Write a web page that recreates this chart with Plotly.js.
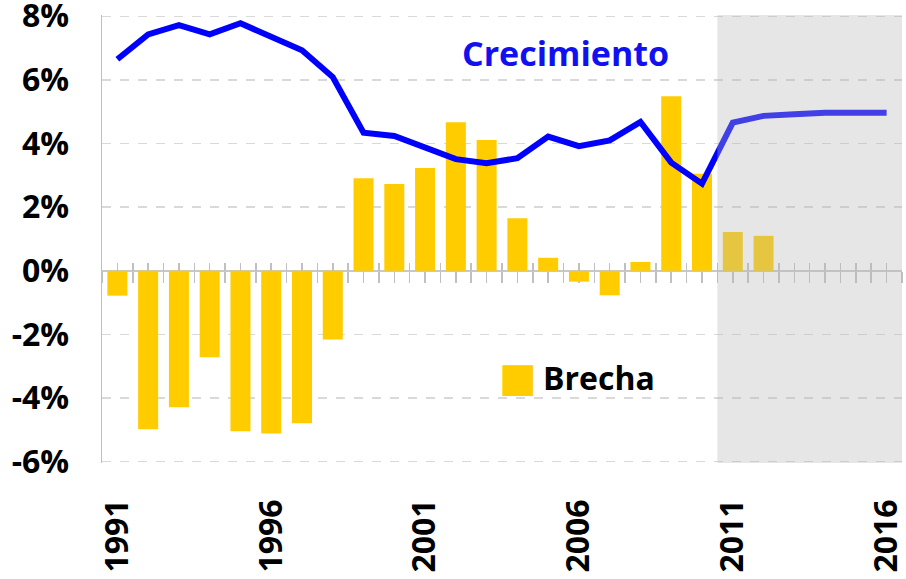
<!DOCTYPE html>
<html>
<head>
<meta charset="utf-8">
<script src="https://cdn.plot.ly/plotly-3.0.1.min.js"></script>
<style>html,body{margin:0;padding:0;background:#fff;}#chart{width:906px;height:579px;}</style>
</head>
<body>
<div id="chart"></div>
<script>
// Data (percent)
const years = [1991,1992,1993,1994,1995,1996,1997,1998,1999,2000,2001,2002,2003,2004,2005,2006,2007,2008,2009,2010,2011,2012,2013,2014,2015,2016];
const brecha = [-0.78,-4.98,-4.29,-2.72,-5.04,-5.11,-4.79,-2.16,2.91,2.73,3.23,4.67,4.11,1.65,0.41,-0.34,-0.77,0.28,5.49,3.05,1.22,1.10,null,null,null,null];
const crecimiento = [6.65,7.43,7.72,7.43,7.78,7.38,6.93,6.09,4.34,4.24,3.90,3.51,3.38,3.54,4.22,3.92,4.10,4.68,3.40,2.74,4.66,4.87,4.92,4.97,4.97,4.97];
const yTickVals = [-6,-4,-2,0,2,4,6,8];
const yTickText = ['-6%','-4%','-2%','0%','2%','4%','6%','8%'];
const xTickVals = [1991,1996,2001,2006,2011,2016];
const projStart = 2010.5, projEnd = 2016.5;

const FONT = '"Open Sans", "Noto Sans", sans-serif';

const traces = [
  {type:'bar', x:years, y:brecha, name:'Brecha', marker:{color:'#FFCC00'}, width:0.65, showlegend:false, hoverinfo:'x+y'},
  {type:'scatter', mode:'lines', x:years, y:crecimiento, name:'Crecimiento', line:{color:'#0000FF', width:6}, showlegend:false}
];

const xr = [1990.5, 2016.5];
const yr = [-6.04, 8.04];
const zeroPos = (0 - yr[0]) / (yr[1] - yr[0]);

const layout = {
  width:906, height:579,
  margin:{l:102, r:4, t:15, b:116},
  paper_bgcolor:'#ffffff', plot_bgcolor:'#ffffff',
  font:{family:FONT, color:'#000000'},
  xaxis:{range:xr, tickmode:'array', tickvals:xTickVals, ticktext:xTickVals.map(String),
         tickangle:-90, ticks:'', showgrid:false, zeroline:false, showline:false, ticklabeloverflow:'allow',
         tickfont:{family:FONT, size:32, weight:'bold', color:'#000'}, ticklabelstandoff:29, fixedrange:true},
  xaxis2:{range:xr, overlaying:'x', anchor:'free', position:zeroPos, side:'bottom',
          tickmode:'linear', tick0:1990.5, dtick:0.5, ticks:'outside', ticklen:11, tickwidth:1.5, tickcolor:'#C0C0C0',
          showticklabels:false, showgrid:false, zeroline:false, showline:false, layer:'below traces'},
  xaxis3:{range:xr, overlaying:'x', anchor:'free', position:zeroPos, side:'bottom',
          tickmode:'linear', tick0:1990.5, dtick:0.5, ticks:'inside', ticklen:8, tickwidth:1.5, tickcolor:'#C0C0C0',
          showticklabels:false, showgrid:false, zeroline:false, showline:false, layer:'below traces'},
  yaxis:{range:yr, tickmode:'array', tickvals:yTickVals, ticktext:yTickText, ticks:'',
         showgrid:true, gridcolor:'#D9D9D9', gridwidth:1.5, griddash:'dash',
         zeroline:true, zerolinecolor:'#C8C8C8', zerolinewidth:1.5,
         showline:true, linecolor:'#BFBFBF', linewidth:1.5, ticklabeloverflow:'allow',
         tickfont:{family:FONT, size:32, weight:'bold', color:'#000'}, ticklabelstandoff:25, fixedrange:true},
  shapes:[
    {type:'rect', xref:'x', yref:'paper', x0:projStart, x1:projEnd, y0:0, y1:1,
     fillcolor:'rgb(183,183,183)', opacity:0.35, line:{width:0}, layer:'above'}
  ],
  annotations:[
    {xref:'paper', yref:'paper', x:0.579, y:0.915, text:'Crecimiento', showarrow:false,
     font:{family:FONT, size:34, weight:'bold', color:'#1010F0'}, xanchor:'center', yanchor:'middle'},
    {xref:'paper', yref:'paper', x:(541-102)/800, y:(463-377)/448, text:'Brecha', showarrow:false,
     font:{family:FONT, size:32, weight:'bold', color:'#000'}, xanchor:'left', yanchor:'middle'},
    {xref:'paper', yref:'paper', x:(518-102)/800, y:(463-377)/448, text:'■', showarrow:false,
     font:{family:'DejaVu Sans', size:40, color:'#FFCC00'}, xanchor:'center', yanchor:'middle'}
  ]
};

// empty traces so the overlay tick axes are drawn
traces.push({type:'scatter', x:[], y:[], xaxis:'x2', showlegend:false, hoverinfo:'skip'});
traces.push({type:'scatter', x:[], y:[], xaxis:'x3', showlegend:false, hoverinfo:'skip'});

Plotly.newPlot('chart', traces, layout, {displayModeBar:false, staticPlot:true});
</script>
</body>
</html>
